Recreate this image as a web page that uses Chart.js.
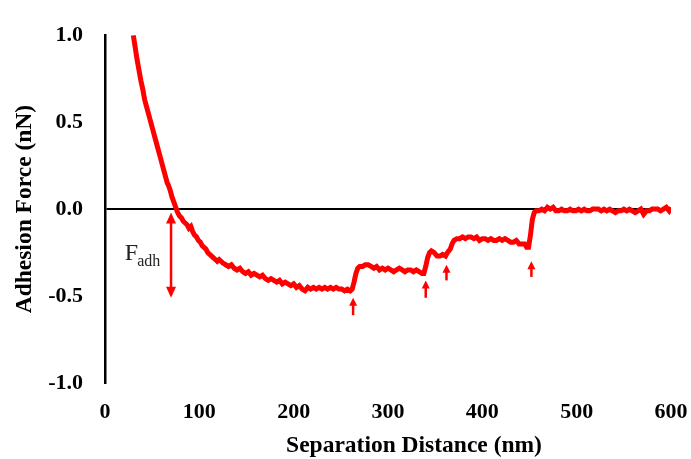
<!DOCTYPE html>
<html>
<head>
<meta charset="utf-8">
<script src="https://cdn.jsdelivr.net/npm/chart.js@4.4.1/dist/chart.umd.min.js"></script>
<style>
  body { margin: 0; background: #fff; }
  #wrap { width: 691px; height: 459px; }
</style>
</head>
<body>
<div id="wrap"><canvas id="forceChart"></canvas></div>
<script>
// retraction curve
const distance = [
  30, 32, 34, 36, 38, 40, 42, 44, 46, 48, 50, 52, 54, 56, 58, 60, 62, 64, 66, 67,
  69, 71, 73, 75, 77, 79, 81, 83, 85, 87, 89, 91, 93, 95, 97, 99, 101, 103, 105, 107,
  109, 111, 113, 115, 117, 119, 121, 123, 125, 128, 131, 134, 137, 140, 143, 146, 149, 152, 155, 158,
  161, 164, 167, 170, 173, 176, 179, 182, 185, 188, 191, 194, 197, 200, 203, 206, 209, 212, 215, 218,
  221, 224, 227, 230, 233, 236, 239, 242, 245, 248, 251, 254, 257, 260, 262, 264, 266, 268, 270, 273,
  276, 279, 282, 285, 288, 291, 294, 297, 300, 303, 306, 309, 312, 315, 318, 321, 324, 327, 330, 333,
  336, 338, 340, 342, 344, 346, 349, 352, 355, 358, 361, 363, 366, 368, 370, 373, 376, 379, 382, 385,
  388, 391, 394, 397, 400, 403, 406, 409, 412, 415, 418, 421, 424, 427, 430, 433, 436, 439, 442, 445,
  447, 449, 451, 453, 455, 457, 460, 463, 466, 469, 472, 475, 478, 481, 484, 487, 490, 493, 496, 499,
  502, 505, 508, 511, 514, 517, 520, 523, 526, 529, 532, 535, 538, 541, 544, 547, 550, 553, 556, 559,
  562, 565, 568, 571, 574, 577, 580, 583, 586, 589, 592, 595, 598, 600
];
const force = [
  1.00, 0.93, 0.86, 0.80, 0.74, 0.69, 0.63, 0.59, 0.55, 0.51, 0.47, 0.43, 0.39, 0.35, 0.31, 0.27, 0.23, 0.19, 0.15, 0.14,
  0.11, 0.07, 0.04, 0.01, -0.02, -0.04, -0.05, -0.07, -0.08, -0.09, -0.11, -0.10, -0.13, -0.15, -0.16, -0.18, -0.19, -0.21, -0.22, -0.23,
  -0.25, -0.26, -0.27, -0.28, -0.29, -0.30, -0.29, -0.30, -0.31, -0.32, -0.33, -0.32, -0.34, -0.35, -0.34, -0.36, -0.37, -0.36, -0.38, -0.37,
  -0.38, -0.39, -0.38, -0.40, -0.41, -0.40, -0.41, -0.42, -0.41, -0.43, -0.42, -0.43, -0.44, -0.43, -0.45, -0.44, -0.46, -0.47, -0.45, -0.46,
  -0.45, -0.46, -0.45, -0.46, -0.45, -0.46, -0.45, -0.46, -0.45, -0.46, -0.46, -0.47, -0.46, -0.47, -0.46, -0.42, -0.37, -0.34, -0.33, -0.33,
  -0.32, -0.32, -0.33, -0.34, -0.33, -0.35, -0.34, -0.35, -0.34, -0.35, -0.36, -0.35, -0.34, -0.35, -0.36, -0.35, -0.35, -0.36, -0.35, -0.36,
  -0.37, -0.37, -0.33, -0.28, -0.25, -0.24, -0.25, -0.27, -0.27, -0.26, -0.27, -0.25, -0.23, -0.20, -0.18, -0.17, -0.17, -0.16, -0.17, -0.16,
  -0.16, -0.17, -0.16, -0.18, -0.17, -0.17, -0.18, -0.17, -0.18, -0.18, -0.17, -0.18, -0.17, -0.18, -0.19, -0.19, -0.18, -0.20, -0.20, -0.20,
  -0.22, -0.22, -0.15, -0.06, -0.02, -0.01, -0.01, 0.00, -0.01, 0.01, 0.00, 0.01, -0.01, -0.01, 0.00, -0.01, -0.01, 0.00, -0.01, -0.01,
  0.00, -0.01, 0.00, -0.01, -0.01, 0.00, 0.00, 0.00, -0.01, 0.00, -0.01, 0.00, -0.01, -0.02, -0.01, -0.01, 0.00, -0.01, 0.00, -0.01,
  -0.02, -0.01, 0.00, -0.03, -0.01, -0.01, 0.00, 0.00, 0.00, -0.01, 0.00, 0.01, -0.01, 0.01
];

// arrows: x position, tip and tail force (first one is the double arrow for F_adh)
const arrowX = [70, 263, 340, 362, 452];
const arrowTip = [-0.02, -0.51, -0.41, -0.32, -0.30];
const arrowTail = [-0.51, -0.61, -0.51, -0.41, -0.39];

const labelX = 21;
const labelY = -0.29;

const yTicks = [-1.0, -0.5, 0.0, 0.5, 1.0];
const xTicks = [0, 100, 200, 300, 400, 500, 600];

const RED = '#ff0000';
const FONT = '"Liberation Serif", "Times New Roman", serif';

const points = distance.map((d, i) => ({ x: d, y: force[i] }));

const annotate = {
  id: 'annotate',
  afterDatasetsDraw(chart) {
    const { ctx, scales: { x, y }, chartArea } = chart;
    ctx.save();
    ctx.strokeStyle = RED;
    ctx.fillStyle = RED;
    ctx.lineWidth = 2.5;
    for (let i = 0; i < arrowX.length; i++) {
      const px = x.getPixelForValue(arrowX[i]);
      const tip = y.getPixelForValue(arrowTip[i]);
      const tail = y.getPixelForValue(arrowTail[i]);
      const hl = i === 0 ? 11 : 8;
      const hw = i === 0 ? 5 : 4;
      ctx.beginPath();
      ctx.moveTo(px, tip + hl - 1);
      ctx.lineTo(px, i === 0 ? tail - hl + 1 : tail);
      ctx.stroke();
      ctx.beginPath();
      ctx.moveTo(px, tip);
      ctx.lineTo(px - hw, tip + hl);
      ctx.lineTo(px + hw, tip + hl);
      ctx.closePath();
      ctx.fill();
      if (i === 0) {
        ctx.beginPath();
        ctx.moveTo(px, tail);
        ctx.lineTo(px - hw, tail - hl);
        ctx.lineTo(px + hw, tail - hl);
        ctx.closePath();
        ctx.fill();
      }
    }
    // F_adh label
    const lx = x.getPixelForValue(labelX);
    const ly = y.getPixelForValue(labelY);
    ctx.fillStyle = '#222';
    ctx.textBaseline = 'alphabetic';
    ctx.textAlign = 'left';
    ctx.font = '24px ' + FONT;
    ctx.fillText('F', lx, ly);
    const fw = ctx.measureText('F').width;
    ctx.font = '16px ' + FONT;
    ctx.fillText('adh', lx + fw - 1, ly + 6);

    // x axis title, sits a little right of centre in the original
    ctx.fillStyle = '#000';
    ctx.font = 'bold 23.5px ' + FONT;
    ctx.textAlign = 'center';
    ctx.textBaseline = 'middle';
    ctx.fillText('Separation Distance (nm)', (chartArea.left + chartArea.right) / 2 + 26, 446);
    ctx.restore();
  }
};

const ctxChart = document.getElementById('forceChart');

new Chart(ctxChart, {
  type: 'line',
  data: {
    datasets: [{
      label: 'Retraction',
      data: points,
      borderColor: RED,
      borderWidth: 5,
      pointRadius: 0,
      tension: 0,
      fill: false
    }]
  },
  options: {
    responsive: true,
    maintainAspectRatio: false,
    animation: false,
    layout: { padding: { left: 0, right: 20, top: 27, bottom: 0 } },
    plugins: {
      legend: { display: false },
      tooltip: { enabled: false }
    },
    scales: {
      x: {
        type: 'linear',
        min: 0,
        max: 600,
        afterBuildTicks: s => { s.ticks = xTicks.map(v => ({ value: v })); },
        afterFit: s => { s.height = 76; },
        ticks: {
          color: '#000',
          font: { family: FONT, size: 22, weight: 'bold' },
          padding: 0,
          maxRotation: 0
        },
        // invisible tick marks only to push the labels down
        grid: {
          display: true,
          drawOnChartArea: false,
          drawTicks: true,
          tickLength: 16,
          color: 'rgba(0,0,0,0)'
        },
        border: { display: false }
      },
      y: {
        min: -1,
        max: 1,
        afterBuildTicks: s => { s.ticks = yTicks.map(v => ({ value: v })); },
        afterFit: s => { s.width = 105; },
        ticks: {
          color: '#000',
          font: { family: FONT, size: 22, weight: 'bold' },
          padding: 22,
          callback: v => Number(v).toFixed(1)
        },
        grid: {
          drawTicks: false,
          color: c => (c.tick && c.tick.value === 0 ? '#000' : 'rgba(0,0,0,0)'),
          lineWidth: 2
        },
        border: { display: true, color: '#000', width: 2.5 },
        title: {
          display: true,
          text: 'Adhesion Force (nN)',
          color: '#000',
          font: { family: FONT, size: 23.5, weight: 'bold' },
          padding: { top: 11, bottom: 0 }
        }
      }
    }
  },
  plugins: [annotate]
});
</script>
</body>
</html>
